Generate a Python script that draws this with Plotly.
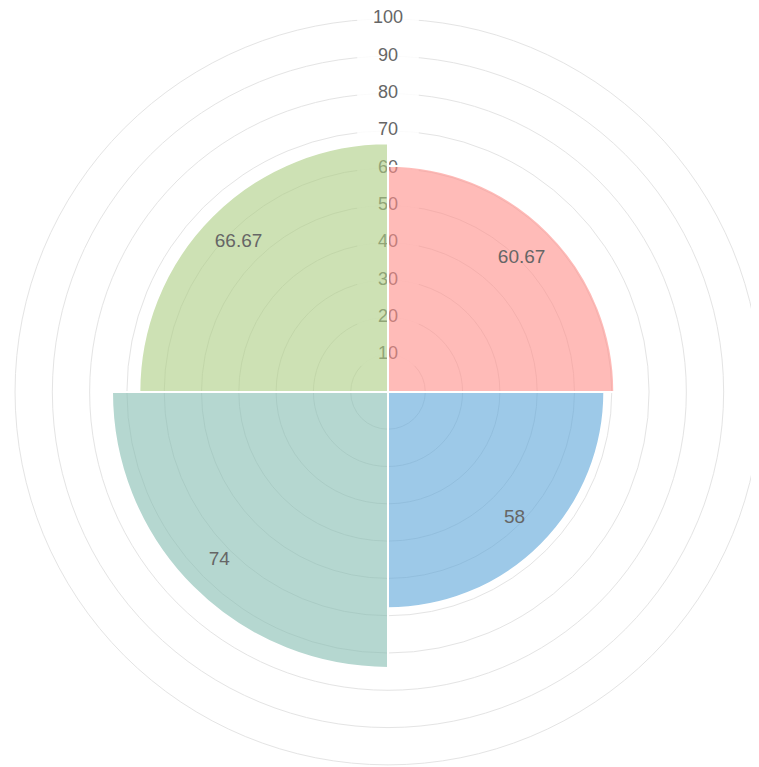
import plotly.graph_objects as go

categories = ["A", "B", "C", "D"]
values = [60.67, 58, 74, 66.67]
angles = [45, 135, 225, 315]
colors = ["rgba(255,142,137,0.6)", "rgba(92,165,217,0.6)",
          "rgba(132,188,177,0.6)", "rgba(172,205,130,0.6)"]
tick_vals = [10, 20, 30, 40, 50, 60, 70, 80, 90, 100]
tick_text = [str(v) for v in tick_vals]

FONT = "Liberation Sans, Arial, sans-serif"
RMAX = 100.3

fig = go.Figure()
# bottom subplot: tick label backdrops and tick labels (under the bars)
fig.add_trace(go.Scatterpolar(
    r=tick_vals, theta=[0] * len(tick_vals), mode="markers",
    marker=dict(symbol="line-ew", size=44,
                line=dict(color="rgba(255,255,255,0.85)", width=22)),
    hoverinfo="skip", showlegend=False, subplot="polar",
))
fig.add_trace(go.Scatterpolar(
    r=tick_vals, theta=[0] * len(tick_vals), mode="text",
    text=tick_text, textposition="middle center",
    textfont=dict(family=FONT, size=18, color="#666"),
    hoverinfo="skip", showlegend=False, subplot="polar",
))
# top subplot: bars and value labels
fig.add_trace(go.Barpolar(
    r=values, theta=angles, width=[90] * 4,
    marker=dict(color=colors, line=dict(color="white", width=2)),
    hoverinfo="skip", showlegend=False, subplot="polar2",
))
fig.add_trace(go.Scatterpolar(
    r=[v - 10 for v in values], theta=angles, mode="text",
    text=[f"{v:g}" for v in values],
    textfont=dict(family=FONT, size=19, color="#666"),
    hoverinfo="skip", showlegend=False, subplot="polar2",
))

dom = dict(x=[0.0078, 0.9935], y=[0.0104, 0.9885])
ang = dict(rotation=90, direction="clockwise", showgrid=False,
           showline=False, showticklabels=False, ticks="")

fig.update_layout(
    width=759, height=767,
    margin=dict(l=0, r=0, t=0, b=0),
    paper_bgcolor="white",
    polar=dict(
        domain=dom, bgcolor="white",
        radialaxis=dict(range=[0, RMAX], tickvals=tick_vals, showticklabels=False,
                        showline=False, ticks="", gridcolor="#e4e4e4", gridwidth=1),
        angularaxis=ang,
    ),
    polar2=dict(
        domain=dom, bgcolor="rgba(0,0,0,0)",
        radialaxis=dict(range=[0, RMAX], showgrid=False, showticklabels=False,
                        showline=False, ticks=""),
        angularaxis=ang,
        barmode="overlay",
    ),
)

fig.write_html("out.html")
